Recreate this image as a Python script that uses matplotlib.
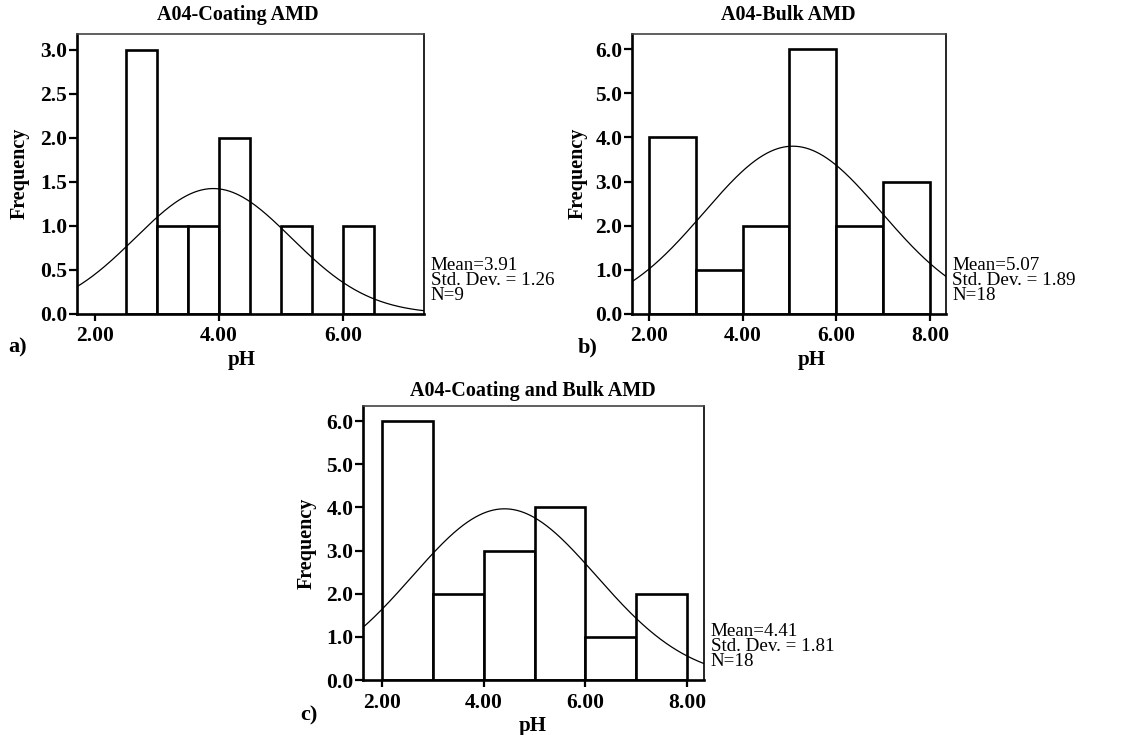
import numpy as np
import matplotlib
matplotlib.use("Agg")
import matplotlib.pyplot as plt
from matplotlib.ticker import FormatStrFormatter

plt.rcParams['font.family'] = ['Liberation Serif', 'DejaVu Serif']

# ---- data ----
titles = ["A04-Coating AMD", "A04-Bulk AMD", "A04-Coating and Bulk AMD"]
panel_tags = ["a)", "b)", "c)"]

a_edges = [2.5, 3.0, 3.5, 4.0, 5.0, 6.0]
a_counts = [3, 1, 1, 2, 1, 1]
a_width = 0.5
a_mean, a_sd, a_n = 3.91, 1.26, 9

b_edges = [2.0, 3.0, 4.0, 5.0, 6.0, 7.0]
b_counts = [4, 1, 2, 6, 2, 3]
b_width = 1.0
b_mean, b_sd, b_n = 5.07, 1.89, 18

c_edges = [2.0, 3.0, 4.0, 5.0, 6.0, 7.0]
c_counts = [6, 2, 3, 4, 1, 2]
c_width = 1.0
c_mean, c_sd, c_n = 4.41, 1.81, 18

a_xticks = [2.0, 4.0, 6.0]
a_yticks = [0.0, 0.5, 1.0, 1.5, 2.0, 2.5, 3.0]
bc_xticks = [2.0, 4.0, 6.0, 8.0]
bc_yticks = [0.0, 1.0, 2.0, 3.0, 4.0, 5.0, 6.0]

W, H = 1140, 735
fig = plt.figure(figsize=(W / 100, H / 100), dpi=100)


def box(l, r, t, b):
    return [l / W, 1 - b / H, (r - l) / W, (b - t) / H]


def panel(rect, edges, counts, width, mean, sd, n, xlim, ylim, xticks, yticks,
          title, tag, stats_x, tag_xy, title_xy, xl_xy, yl_xy):
    ax = fig.add_axes(rect)
    ax.bar(edges, counts, width=width, align='edge', facecolor='white',
           edgecolor='black', linewidth=1.9, zorder=2)
    xs = np.linspace(xlim[0], xlim[1], 400)
    ys = n * width / (sd * np.sqrt(2 * np.pi)) * np.exp(-0.5 * ((xs - mean) / sd) ** 2)
    ax.plot(xs, ys, color='black', linewidth=0.9, zorder=3)
    ax.set_xlim(*xlim)
    ax.set_ylim(*ylim)
    ax.set_xticks(xticks)
    ax.set_yticks(yticks)
    ax.xaxis.set_major_formatter(FormatStrFormatter('%.2f'))
    ax.yaxis.set_major_formatter(FormatStrFormatter('%.1f'))
    ax.tick_params(axis='x', direction='out', length=5, width=1.6,
                   labelsize=15.5, pad=4)
    ax.tick_params(axis='y', direction='out', length=6, width=1.6,
                   labelsize=15.5, pad=1)
    for lab in ax.get_xticklabels() + ax.get_yticklabels():
        lab.set_fontweight('bold')
    ax.spines['left'].set_linewidth(1.9)
    ax.spines['bottom'].set_linewidth(1.9)
    ax.spines['top'].set_linewidth(1.2)
    ax.spines['top'].set_color('#444444')
    ax.spines['top'].set_linestyle((0, (3, 1)))
    ax.spines['right'].set_linewidth(1.2)
    fig.text(title_xy[0] / W, 1 - title_xy[1] / H, title, ha='center', va='center',
             fontsize=14.5, fontweight='bold')
    fig.text(xl_xy[0] / W, 1 - xl_xy[1] / H, "pH", ha='center', va='center',
             fontsize=15, fontweight='bold')
    fig.text(yl_xy[0] / W, 1 - yl_xy[1] / H, "Frequency", ha='center', va='center',
             fontsize=14.5, fontweight='bold', rotation=90)
    fig.text(tag_xy[0] / W, 1 - tag_xy[1] / H, tag, ha='left', va='center',
             fontsize=16, fontweight='bold')
    stats = "Mean=%.2f\nStd. Dev. = %.2f\nN=%d" % (mean, sd, n)
    ax.text(stats_x, 0.035, stats, transform=ax.transAxes, ha='left', va='bottom',
            fontsize=13.7, linespacing=0.85, clip_on=False)
    return ax


panel(box(77, 424, 34, 314), a_edges, a_counts, a_width, a_mean, a_sd, a_n,
      (1.71, 7.31), (0, 3.18), a_xticks, a_yticks, titles[0], panel_tags[0],
      1.02, (8, 347), (238, 15), (242, 360), (20, 173))

panel(box(632, 946, 34, 314), b_edges, b_counts, b_width, b_mean, b_sd, b_n,
      (1.64, 8.34), (0, 6.34), bc_xticks, bc_yticks, titles[1], panel_tags[1],
      1.02, (578, 347), (788, 15), (812, 360), (578, 173))

panel(box(363, 704, 406, 680), c_edges, c_counts, c_width, c_mean, c_sd, c_n,
      (1.63, 8.33), (0, 6.35), bc_xticks, bc_yticks, titles[2], panel_tags[2],
      1.02, (300, 715), (533, 391), (533, 726), (307, 543))

fig.savefig("out.png", dpi=100)
